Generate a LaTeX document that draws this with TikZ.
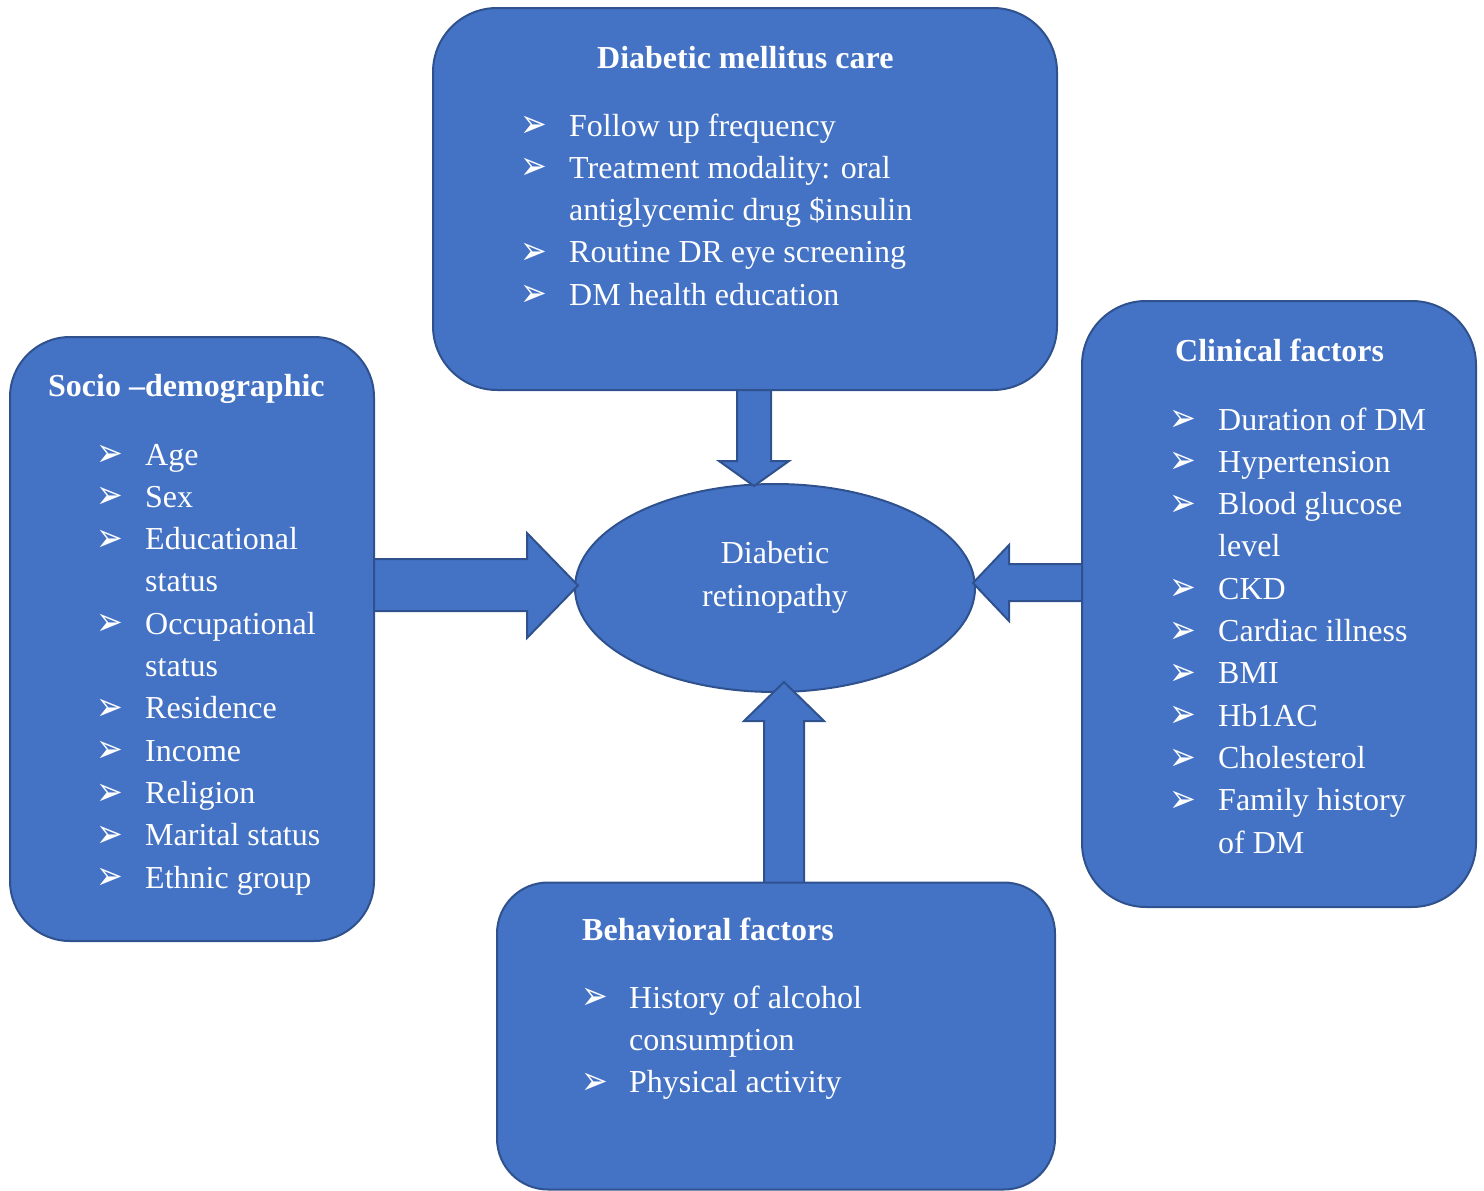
\documentclass[tikz,border=0pt]{standalone}
\usepackage{fontspec}
\setmainfont{Liberation Serif}
\newfontfamily\dingfont{DejaVu Sans}
\usetikzlibrary{shapes.geometric}
\definecolor{boxfill}{HTML}{4472C4}
\definecolor{boxline}{HTML}{2F528F}
\newcommand{\bulglyph}{\scalebox{1}[1.25]{➢}}
\tikzset{
  shapebox/.style={draw=boxline, fill=boxfill, line width=2pt, rectangle, inner sep=0pt},
  blockarrow/.style={draw=boxline, fill=boxfill, line width=2pt, line join=miter},
  txt/.style={text=white, inner sep=0pt, anchor=base west, font=\fontsize{32}{42.3}\selectfont},
  ttl/.style={text=white, inner sep=0pt, anchor=base west, font=\fontsize{32}{42.3}\selectfont\bfseries},
  bulletglyph/.style={text=white, inner sep=0pt, anchor=center, font=\dingfont\fontsize{32}{32}\selectfont},
}
\begin{document}
\begin{tikzpicture}[x=1pt,y=-1pt]
\useasboundingbox (0,0) rectangle (1484,1191);
% central ellipse
\node[ellipse, draw=boxline, fill=boxfill, line width=2pt, minimum width=400pt, minimum height=208pt, inner sep=0pt] (dr) at (775,588) {};
\node[text=white, inner sep=0pt, anchor=base, font=\fontsize{32}{43}\selectfont] (drtext) at (775,563)
  {\begin{tabular}[t]{@{}c@{}}Diabetic\\retinopathy\end{tabular}};
% block arrows
\draw[blockarrow] (737,389) -- (737,461) -- (719,461) -- (754,486) -- (789,461) -- (771,461) -- (771,389) -- cycle;
\draw[blockarrow] (373,559) -- (527,559) -- (527,533) -- (578,585.5) -- (527,638) -- (527,611) -- (373,611) -- cycle;
\draw[blockarrow] (1083,564) -- (1009,564) -- (1009,545) -- (973,583) -- (1009,621) -- (1009,601) -- (1083,601) -- cycle;
\draw[blockarrow] (764,884) -- (764,721) -- (744,721) -- (784,682) -- (824,721) -- (804,721) -- (804,884) -- cycle;
% boxes
\node[shapebox, rounded corners=64pt, minimum width=624pt, minimum height=382pt] (care) at (745,199) {};
\node[shapebox, rounded corners=60pt, minimum width=364pt, minimum height=604pt] (socio) at (192,639) {};
\node[shapebox, rounded corners=64pt, minimum width=394pt, minimum height=606pt] (clin) at (1279,604) {};
\node[shapebox, rounded corners=51pt, minimum width=558pt, minimum height=307pt] (behav) at (776,1036) {};
% box texts
\node[ttl] (caret) at (597,68) {Diabetic mellitus care};
\node[txt] (carel) at (569,136) {\begin{tabular}[t]{@{}l@{}}
Follow up frequency\\
Treatment modality: oral\\
antiglycemic drug \$insulin\\
Routine DR eye screening\\
DM health education
\end{tabular}};
\foreach \k in {0,1,3,4} \node[bulletglyph] (cb\k) at (533.5,{127+\k*42.3}) {\bulglyph};
\node[ttl] (sociot) at (48,396) {Socio –demographic};
\node[txt] (sociol) at (145,465) {\begin{tabular}[t]{@{}l@{}}
Age\\
Sex\\
Educational\\
status\\
Occupational\\
status\\
Residence\\
Income\\
Religion\\
Marital status\\
Ethnic group
\end{tabular}};
\foreach \k in {0,1,2,4,6,7,8,9,10} \node[bulletglyph] (sb\k) at (109.5,{456+\k*42.3}) {\bulglyph};
\node[ttl] (clint) at (1175,361) {Clinical factors};
\node[txt] (clinl) at (1218,430) {\begin{tabular}[t]{@{}l@{}}
Duration of DM\\
Hypertension\\
Blood glucose\\
level\\
CKD\\
Cardiac illness\\
BMI\\
Hb1AC\\
Cholesterol\\
Family history\\
of DM
\end{tabular}};
\foreach \k in {0,1,2,4,5,6,7,8,9} \node[bulletglyph] (kb\k) at (1182.5,{421+\k*42.3}) {\bulglyph};
\node[ttl] (behavt) at (582,940) {Behavioral factors};
\node[txt] (behavl) at (629,1008) {\begin{tabular}[t]{@{}l@{}}
History of alcohol\\
consumption\\
Physical activity
\end{tabular}};
\foreach \k in {0,2} \node[bulletglyph] (bb\k) at (594.5,{999+\k*42.3}) {\bulglyph};
\end{tikzpicture}
\end{document}
